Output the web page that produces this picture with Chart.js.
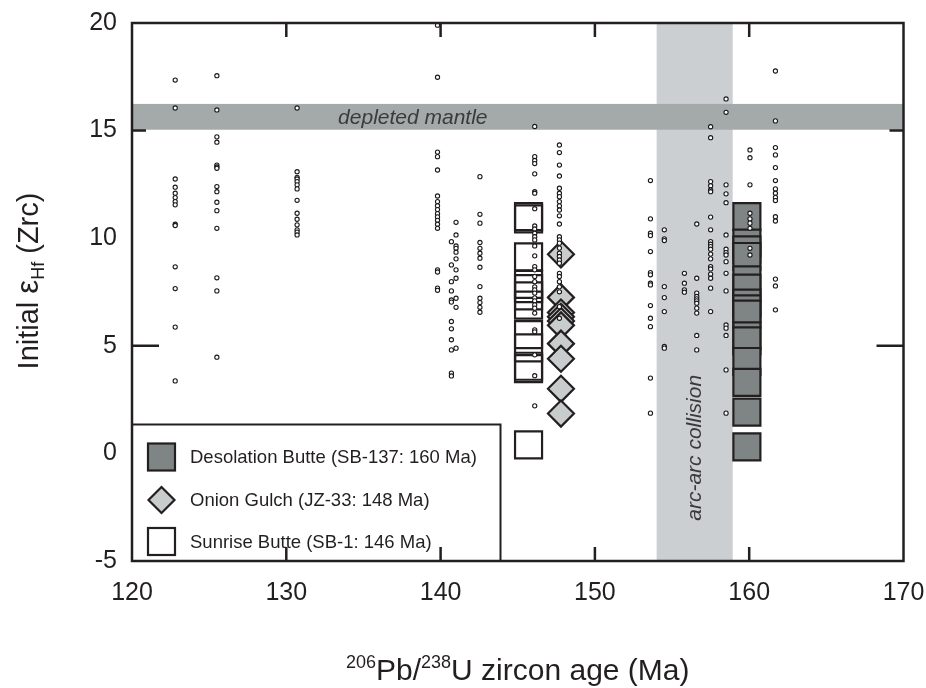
<!DOCTYPE html>
<html>
<head>
<meta charset="utf-8">
<script src="https://cdn.jsdelivr.net/npm/chart.js@4"></script>
<style>
  html, body { margin: 0; padding: 0; background: #ffffff; }
  #c { display: block; }
</style>
</head>
<body>
<canvas id="c" width="926" height="688" style="width:926px;height:688px"></canvas>
<script>
// ---------------- DATA ----------------
const xTicks = [120, 130, 140, 150, 160, 170];
const yTicks = [-5, 0, 5, 10, 15, 20];

// detrital zircon analyses (small open circles): one age per column, eHf values per column
const detritalAges = [122.8, 125.5, 130.7, 139.8, 140.7, 141.0, 142.55, 146.1, 147.7,
                      153.6, 154.5, 155.8, 156.6, 157.5, 158.5, 160.05, 161.7];
const detritalEHf = [
  [17.35, 16.05, 12.75, 12.37, 12.09, 11.89, 11.70, 11.55, 10.65, 10.59, 8.67, 7.66, 5.87, 3.37],
  [17.55, 15.96, 14.71, 14.46, 13.40, 13.31, 13.25, 12.40, 12.16, 11.67, 11.28, 10.46, 8.16, 7.55, 4.47],
  [16.05, 13.09, 12.83, 12.75, 12.63, 12.48, 12.29, 11.76, 11.16, 10.88, 10.62, 10.39, 10.28, 10.15],
  [19.9, 17.48, 14.0, 13.79, 13.17, 11.96, 11.70, 11.51, 11.33, 11.14, 10.99, 10.83, 10.65, 10.46, 8.53, 8.43, 7.68, 7.58],
  [9.84, 8.76, 7.98, 7.55, 7.13, 7.03, 6.13, 5.79, 5.28, 4.81, 3.73, 3.60],
  [10.74, 10.15, 9.64, 9.53, 9.35, 9.04, 8.53, 8.14, 7.21, 6.79, 4.89],
  [12.86, 11.11, 10.70, 9.80, 9.53, 9.30, 9.07, 8.65, 7.75, 7.21, 7.01, 6.79, 6.56],
  [15.19, 13.79, 13.61, 13.47, 12.99, 12.16, 12.09, 11.37, 10.57, 10.43, 10.23, 10.07, 9.92, 9.64, 9.18, 8.68,
   8.53, 8.22, 7.98, 7.74, 7.60, 7.45, 7.23, 7.09, 6.90, 6.75, 6.52, 5.74, 5.65, 4.58, 3.61, 2.21],
  [14.33, 13.98, 13.40, 12.89, 12.32, 12.09, 11.93, 11.70, 11.50, 11.31, 11.04, 10.66, 10.07, 9.92, 9.77, 9.54,
   9.30, 9.15, 8.99, 8.84, 8.37, 8.22, 7.98, 7.74, 7.51, 6.82, 6.28],
  [12.68, 10.90, 10.23, 10.12, 9.38, 8.40, 8.30, 7.91, 7.83, 6.87, 6.28, 5.89, 3.50, 1.87],
  [10.39, 9.97, 9.89, 7.75, 7.24, 6.59, 4.97, 4.89],
  [8.37, 7.91, 7.60, 7.49],
  [10.66, 8.14, 7.45, 7.29, 7.18, 7.09, 6.98, 6.75, 6.52, 5.48, 4.81],
  [15.18, 14.67, 12.63, 12.44, 12.24, 12.16, 10.98, 10.39, 9.84, 9.72, 9.61, 9.49, 9.26, 9.04, 8.68, 8.57, 8.33, 8.14, 7.68, 6.59],
  [16.47, 15.85, 12.48, 12.06, 11.65, 10.15, 9.49, 9.33, 9.22, 8.91, 8.37, 7.55, 5.97, 5.82, 5.48, 3.88, 1.87],
  [14.10, 13.74, 12.48, 11.16, 10.90, 10.70, 10.46, 9.53, 9.22],
  [17.77, 15.45, 14.21, 13.87, 13.28, 12.68, 12.29, 12.09, 11.90, 11.75, 11.0, 10.80, 8.10, 7.78, 6.67]
];

// igneous samples
const desolationAge = 159.85;  // SB-137
const desolationEHf = [11.0, 9.77, 9.46, 9.15, 8.06, 7.68, 6.98, 6.72, 6.47, 5.46, 5.23, 4.27, 3.3, 1.92, 0.3];
const onionAge = 147.8;        // JZ-33
const onionEHf = [9.25, 7.25, 6.55, 6.35, 6.15, 5.95, 5.1, 4.4, 3.0, 1.85];
const sunriseAge = 145.7;      // SB-1
const sunriseEHf = [11.0, 10.9, 9.13, 7.85, 7.66, 7.32, 6.89, 5.52, 4.90, 4.05, 3.94, 0.4];

// shaded fields
const depletedMantleRange = [15.04, 16.24];
const arcCollisionRange = [154.0, 158.93];

const legendLabels = ['Desolation Butte (SB-137: 160 Ma)', 'Onion Gulch (JZ-33: 148 Ma)', 'Sunrise Butte (SB-1: 146 Ma)'];

// ---------------- STYLE ----------------
const INK = '#231f20';
const FONT = '"Liberation Sans", Arial, Helvetica, sans-serif';
const DESO_FILL = '#7e8584';
const ONION_FILL = '#c8cccc';
const MANTLE_FILL = '#a4aaa9';
const ARC_FILL = '#cbcfd2';

const detritalPoints = [];
detritalAges.forEach((a, i) => detritalEHf[i].forEach(v => detritalPoints.push({x: a, y: v})));
const pts = (age, arr) => arr.map(v => ({x: age, y: v}));

const bandsPlugin = {
  id: 'bands',
  beforeDatasetsDraw(chart) {
    const {ctx, chartArea: ca, scales: {x, y}} = chart;
    ctx.save();
    const ax0 = x.getPixelForValue(arcCollisionRange[0]);
    const ax1 = x.getPixelForValue(arcCollisionRange[1]);
    ctx.fillStyle = ARC_FILL;
    ctx.fillRect(ax0, ca.top, ax1 - ax0, ca.bottom - ca.top);
    const my0 = y.getPixelForValue(depletedMantleRange[1]);
    const my1 = y.getPixelForValue(depletedMantleRange[0]);
    ctx.fillStyle = MANTLE_FILL;
    ctx.fillRect(ca.left, my0, ca.right - ca.left, my1 - my0);
    ctx.fillStyle = '#3a3a3a';
    ctx.font = 'italic 21px ' + FONT;
    ctx.textAlign = 'center';
    ctx.textBaseline = 'middle';
    ctx.fillText('depleted mantle', x.getPixelForValue(138.2), (my0 + my1) / 2 + 1);
    ctx.save();
    ctx.translate(x.getPixelForValue(156.5), y.getPixelForValue(0.26));
    ctx.rotate(-Math.PI / 2);
    ctx.fillText('arc-arc collision', 0, 0);
    ctx.restore();
    ctx.restore();
  }
};

const framePlugin = {
  id: 'frame',
  afterDatasetsDraw(chart) {
    const {ctx, chartArea: ca, scales: {x, y}} = chart;
    ctx.save();
    // legend box
    const lx0 = ca.left, lx1 = 500.5, ly0 = 424.5, ly1 = ca.bottom;
    ctx.fillStyle = '#ffffff';
    ctx.fillRect(lx0, ly0, lx1 - lx0, ly1 - ly0);
    ctx.strokeStyle = INK;
    ctx.lineWidth = 2;
    ctx.strokeRect(lx0, ly0, lx1 - lx0, ly1 - ly0);
    const rows = [457, 500, 541.5];
    const ix = 161.5;
    ctx.lineWidth = 2.2;
    ctx.fillStyle = DESO_FILL;
    ctx.fillRect(ix - 13.5, rows[0] - 13.5, 27, 27);
    ctx.strokeRect(ix - 13.5, rows[0] - 13.5, 27, 27);
    ctx.beginPath();
    ctx.moveTo(ix - 13, rows[1]); ctx.lineTo(ix, rows[1] - 13);
    ctx.lineTo(ix + 13, rows[1]); ctx.lineTo(ix, rows[1] + 13); ctx.closePath();
    ctx.fillStyle = ONION_FILL; ctx.fill(); ctx.stroke();
    ctx.fillStyle = '#ffffff';
    ctx.fillRect(ix - 13.5, rows[2] - 13.5, 27, 27);
    ctx.strokeRect(ix - 13.5, rows[2] - 13.5, 27, 27);
    ctx.fillStyle = INK;
    ctx.font = '18.5px ' + FONT;
    ctx.textAlign = 'left';
    ctx.textBaseline = 'middle';
    legendLabels.forEach((t, i) => ctx.fillText(t, 190, rows[i] + 1));

    // inward ticks
    ctx.strokeStyle = INK;
    ctx.lineWidth = 2.5;
    [130, 140, 150, 160].forEach(v => {
      const px = x.getPixelForValue(v);
      ctx.beginPath();
      ctx.moveTo(px, ca.top); ctx.lineTo(px, ca.top + 14);
      ctx.moveTo(px, ca.bottom); ctx.lineTo(px, ca.bottom - 14);
      ctx.stroke();
    });
    [[5, 27], [15, 14]].forEach(([v, len]) => {
      const py = y.getPixelForValue(v);
      ctx.beginPath();
      ctx.moveTo(ca.left, py); ctx.lineTo(ca.left + len, py);
      ctx.moveTo(ca.right, py); ctx.lineTo(ca.right - len, py);
      ctx.stroke();
    });
    ctx.lineWidth = 2.5;
    ctx.strokeRect(ca.left, ca.top, ca.right - ca.left, ca.bottom - ca.top);

    // axis titles
    ctx.fillStyle = INK;
    ctx.textBaseline = 'alphabetic';
    ctx.textAlign = 'left';
    const big = '30px ' + FONT, small = '18px ' + FONT;
    const parts = [['206', small, -12], ['Pb/', big, 0], ['238', small, -12], ['U zircon age (Ma)', big, 0]];
    let total = 0;
    parts.forEach(p => { ctx.font = p[1]; total += ctx.measureText(p[0]).width; });
    let cx = (ca.left + ca.right) / 2 - total / 2;
    const base = 680;
    parts.forEach(p => { ctx.font = p[1]; ctx.fillText(p[0], cx, base + p[2]); cx += ctx.measureText(p[0]).width; });

    ctx.save();
    ctx.translate(38, 281);
    ctx.rotate(-Math.PI / 2);
    const ybig = '29px ' + FONT;
    const yparts = [['Initial ', ybig, 0], ['\u03B5', '31px ' + FONT, 0], ['Hf', small, 6], [' (Zrc)', ybig, 0]];
    total = 0;
    yparts.forEach(p => { ctx.font = p[1]; total += ctx.measureText(p[0]).width; });
    cx = -total / 2;
    yparts.forEach(p => { ctx.font = p[1]; ctx.fillText(p[0], cx, p[2]); cx += ctx.measureText(p[0]).width; });
    ctx.restore();
    ctx.restore();
  }
};

new Chart(document.getElementById('c'), {
  type: 'scatter',
  data: {
    datasets: [
      {
        label: 'detrital zircon',
        data: detritalPoints,
        pointStyle: 'circle',
        pointRadius: 2.1,
        borderWidth: 1.1,
        borderColor: '#1a1a1a',
        backgroundColor: '#ffffff',
        order: 0
      },
      {
        label: legendLabels[0],
        data: pts(desolationAge, desolationEHf),
        pointStyle: 'rect',
        pointRadius: 19.1,
        borderWidth: 2.2,
        borderColor: INK,
        backgroundColor: DESO_FILL,
        order: 1
      },
      {
        label: legendLabels[1],
        data: pts(onionAge, onionEHf),
        pointStyle: 'rectRot',
        pointRadius: 13,
        borderWidth: 2.2,
        borderColor: INK,
        backgroundColor: ONION_FILL,
        order: 2
      },
      {
        label: legendLabels[2],
        data: pts(sunriseAge, sunriseEHf),
        pointStyle: 'rect',
        pointRadius: 19.1,
        borderWidth: 2.2,
        borderColor: INK,
        backgroundColor: 'rgba(255,255,255,0)',
        order: 3
      }
    ]
  },
  options: {
    responsive: false,
    animation: false,
    events: [],
    layout: { padding: { top: 23, right: 22.5, left: 0, bottom: 0 } },
    plugins: { legend: { display: false }, tooltip: { enabled: false } },
    scales: {
      x: {
        type: 'linear',
        min: 120, max: 170,
        afterBuildTicks: s => { s.ticks = xTicks.map(v => ({value: v})); },
        ticks: { font: { family: FONT, size: 25 }, color: INK, padding: 17, maxRotation: 0, autoSkip: false },
        grid: { display: false, drawTicks: false },
        border: { display: false },
        afterFit: s => { s.height = 127; s.paddingLeft = 0; s.paddingRight = 0; }
      },
      y: {
        type: 'linear',
        min: -5, max: 20,
        afterBuildTicks: s => { s.ticks = yTicks.map(v => ({value: v})); },
        ticks: { font: { family: FONT, size: 25 }, color: INK, padding: 15, autoSkip: false },
        grid: { display: false, drawTicks: false },
        border: { display: false },
        afterFit: s => { s.width = 132; s.paddingTop = 0; s.paddingBottom = 0; }
      }
    }
  },
  plugins: [bandsPlugin, framePlugin]
});
</script>
</body>
</html>
